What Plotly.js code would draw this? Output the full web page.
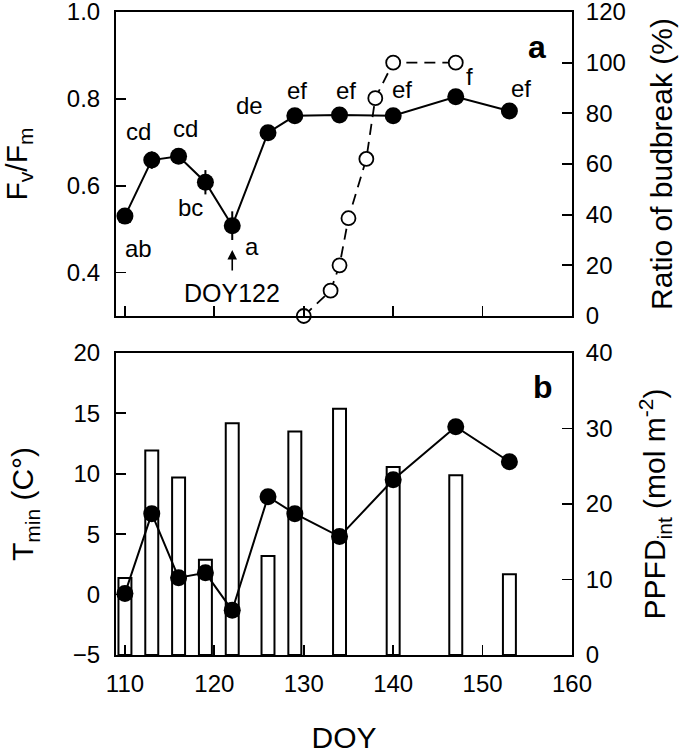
<!DOCTYPE html>
<html>
<head>
<meta charset="utf-8">
<script src="https://cdn.plot.ly/plotly-3.0.1.min.js"></script>
<style>html,body{margin:0;padding:0;background:#fff;}#chart{width:685px;height:754px;}</style>
</head>
<body>
<div id="chart"></div>
<script>
// ---- data ----
const doy = [110, 113, 116, 119, 122, 126, 129, 134, 140, 147, 153];
const fvfm = [0.530, 0.659, 0.668, 0.608, 0.508, 0.722, 0.761, 0.763, 0.761, 0.805, 0.772];
const fvfmErr = [0.015, 0.02, 0.015, 0.028, 0.033, 0.015, 0.015, 0.015, 0.015, 0.015, 0.015];
const sigLetters = ['ab', 'cd', 'cd', 'bc', 'a', 'de', 'ef', 'ef', 'ef', 'f', 'ef'];
const doyBud = [130, 133, 134, 135, 137, 138, 140, 147];
const budbreak = [0, 10, 20, 38.6, 62, 86, 100, 100];
const tmin = [0.1, 6.7, 1.4, 1.8, -1.3, 8.1, 6.7, 4.8, 9.5, 13.9, 11.0];
const ppfd = [10.2, 27.1, 23.5, 12.6, 30.7, 13.1, 29.6, 32.6, 24.9, 23.8, 10.7];
const xTicks = [110, 120, 130, 140, 150, 160];

// ---- styling helpers ----
const FONT = 'Liberation Sans, Arial, sans-serif';
const letterShift = [[14,-32],[-13,29],[7,28],[-15,-25],[20,-21],[-19,27],[2,25],[6,24],[9,26],[14,20],[12,23]];

const traces = [
  { // bars (PPFD) - base of panel b, right axis
    type: 'bar', x: doy, y: ppfd, xaxis: 'x2', yaxis: 'y3', width: 1.45,
    marker: {color: '#ffffff', line: {color: '#000', width: 2}}, hoverinfo: 'skip'
  },
  { // Tmin on left axis of panel b
    type: 'scatter', mode: 'lines+markers', x: doy, y: tmin, xaxis: 'x2', yaxis: 'y4',
    line: {color: '#000', width: 2}, marker: {color: '#000', size: 17}, cliponaxis: false
  },
  { // Fv/Fm
    type: 'scatter', mode: 'lines+markers', x: doy, y: fvfm, xaxis: 'x', yaxis: 'y',
    line: {color: '#000', width: 2}, marker: {color: '#000', size: 17},
    error_y: {type: 'data', array: fvfmErr, visible: true, color: '#000', thickness: 2, width: 0},
    cliponaxis: false
  },
  { // budbreak ratio
    type: 'scatter', mode: 'lines+markers', x: doyBud, y: budbreak, xaxis: 'x', yaxis: 'y2',
    line: {color: '#000', width: 1.8, dash: '11px,7px'},
    marker: {color: '#fff', size: 14, line: {color: '#000', width: 1.8}}, cliponaxis: false
  }
];

const tickCommon = {
  ticks: 'inside', ticklen: 10, tickwidth: 1.8, tickcolor: '#000',
  showline: true, linecolor: '#000', linewidth: 2, showgrid: false, zeroline: false,
  ticklabeloverflow: 'allow',
  tickfont: {family: FONT, size: 24, color: '#000'}
};

const annotations = sigLetters.map((t, i) => ({
  x: doy[i], y: fvfm[i], xref: 'x', yref: 'y', text: t, showarrow: false,
  xshift: letterShift[i][0], yshift: letterShift[i][1],
  font: {family: FONT, size: 24, color: '#000'}
}));
annotations.push(
  {x: 122, y: 0.452, xref: 'x', yref: 'y', ax: 0, ay: 22, text: '', showarrow: true,
   arrowhead: 2, arrowsize: 1.2, arrowwidth: 1.6, arrowcolor: '#000'},
  {x: 122, y: 0.353, xref: 'x', yref: 'y', text: 'DOY122', showarrow: false,
   font: {family: FONT, size: 25, color: '#000'}},
  {x: 0.923, y: 0.9456, xref: 'paper', yref: 'paper', xanchor: 'center', yanchor: 'middle',
   text: '<b>a</b>', showarrow: false, font: {family: FONT, size: 32, color: '#000'}},
  {x: 0.936, y: 0.4168, xref: 'paper', yref: 'paper', xanchor: 'center', yanchor: 'middle',
   text: '<b>b</b>', showarrow: false, font: {family: FONT, size: 32, color: '#000'}}
);

const layout = {
  width: 685, height: 754,
  margin: {l: 116, r: 113, t: 12, b: 99},
  paper_bgcolor: '#fff', plot_bgcolor: '#fff',
  showlegend: false,
  font: {family: FONT, color: '#000'},
  xaxis: Object.assign({}, tickCommon, {
    domain: [0, 1], range: [109, 160], anchor: 'y', tickvals: xTicks, showticklabels: false, mirror: true
  }),
  yaxis: Object.assign({}, tickCommon, {
    domain: [0.5272, 1], range: [0.3, 1.0], anchor: 'x', tickvals: [0.4, 0.6, 0.8, 1.0],
    ticktext: ['0.4', '0.6', '0.8', '1.0'], ticklabelstandoff: 9,
    title: {text: 'F<sub>v</sub>/F<sub>m</sub>', font: {family: FONT, size: 30, color: '#000'}, standoff: 34}
  }),
  yaxis2: Object.assign({}, tickCommon, {
    overlaying: 'y', side: 'right', anchor: 'x', range: [0, 120], dtick: 20, ticklabelstandoff: 7,
    title: {text: 'Ratio of budbreak (%)', font: {family: FONT, size: 30, color: '#000'}, standoff: 26}
  }),
  xaxis2: Object.assign({}, tickCommon, {
    domain: [0, 1], range: [109, 160], anchor: 'y3', tickvals: xTicks, mirror: true, ticklabelstandoff: 6,
    title: {text: 'DOY', font: {family: FONT, size: 30, color: '#000'}, standoff: 31}
  }),
  yaxis3: Object.assign({}, tickCommon, {
    domain: [0, 0.4697], range: [0, 40], dtick: 10, side: 'right', anchor: 'x2', ticklabelstandoff: 7,
    title: {text: 'PPFD<sub>int</sub> (mol m<sup>-2</sup>)', font: {family: FONT, size: 30, color: '#000'}, standoff: 33}
  }),
  yaxis4: Object.assign({}, tickCommon, {
    overlaying: 'y3', side: 'left', anchor: 'x2', range: [-5, 20], dtick: 5, ticklabelstandoff: 9,
    title: {text: 'T<sub>min</sub> (C°)', font: {family: FONT, size: 30, color: '#000'}, standoff: 30}
  }),
  annotations: annotations
};

Plotly.newPlot('chart', traces, layout, {displayModeBar: false, staticPlot: true});
</script>
</body>
</html>
